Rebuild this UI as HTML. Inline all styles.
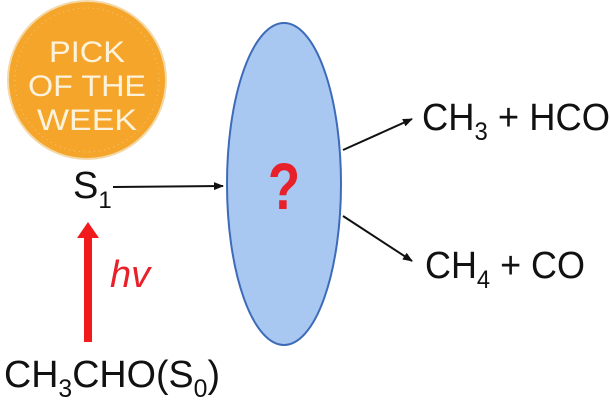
<!DOCTYPE html>
<html><head><style>html,body{margin:0;padding:0;background:#fff}svg{display:block}</style></head>
<body>
<svg width="610" height="400" viewBox="0 0 610 400" xmlns="http://www.w3.org/2000/svg" font-family="'Liberation Sans', sans-serif">
<defs>
<marker id="ah" markerWidth="10" markerHeight="8" refX="9" refY="4" orient="auto" markerUnits="userSpaceOnUse"><path d="M0,0 L10,4 L0,8 z" fill="#111"/></marker>
</defs>
<circle cx="87" cy="80" r="79" fill="#F4A52A" stroke="#f3d9a8" stroke-width="2"/>
<circle cx="87" cy="80" r="72" fill="none" stroke="#f7c77a" stroke-width="1" stroke-dasharray="1 4"/>
<g fill="#fdf3dc" font-size="30" text-anchor="middle">
<text x="87" y="62" textLength="76" lengthAdjust="spacingAndGlyphs">PICK</text>
<text x="87" y="96" textLength="118" lengthAdjust="spacingAndGlyphs">OF THE</text>
<text x="87" y="130" textLength="100" lengthAdjust="spacingAndGlyphs">WEEK</text>
</g>
<ellipse cx="284" cy="184" rx="57" ry="161" fill="#A9C8F1" stroke="#3D6BB8" stroke-width="2"/>
<text x="284" y="209" fill="#E8202A" font-size="66" font-weight="bold" text-anchor="middle" transform="translate(284 0) scale(0.8 1) translate(-284 0)">?</text>
<text x="73" y="198" font-size="38" fill="#111">S<tspan font-size="24" dy="10">1</tspan></text>
<line x1="113" y1="187" x2="223" y2="186" stroke="#111" stroke-width="2" marker-end="url(#ah)"/>
<line x1="343" y1="150" x2="412" y2="119" stroke="#111" stroke-width="2" marker-end="url(#ah)"/>
<line x1="343" y1="216" x2="412" y2="261" stroke="#111" stroke-width="2" marker-end="url(#ah)"/>
<rect x="84" y="236" width="8" height="106" fill="#F01C1C"/>
<polygon points="77,238 88,222 99,238" fill="#F01C1C"/>
<text x="110" y="287" font-size="38" font-style="italic" fill="#E8202A">hv</text>
<text x="4" y="387" font-size="38" fill="#111" textLength="216" lengthAdjust="spacingAndGlyphs">CH<tspan font-size="25" dy="10">3</tspan><tspan dy="-10">CHO(S</tspan><tspan font-size="25" dy="10">0</tspan><tspan dy="-10">)</tspan></text>
<text x="422" y="130" font-size="38" fill="#111" textLength="188" lengthAdjust="spacingAndGlyphs">CH<tspan font-size="25" dy="10">3</tspan><tspan dy="-10"> + HCO</tspan></text>
<text x="425" y="278" font-size="38" fill="#111" textLength="160" lengthAdjust="spacingAndGlyphs">CH<tspan font-size="25" dy="10">4</tspan><tspan dy="-10"> + CO</tspan></text>
</svg>
</body></html>
